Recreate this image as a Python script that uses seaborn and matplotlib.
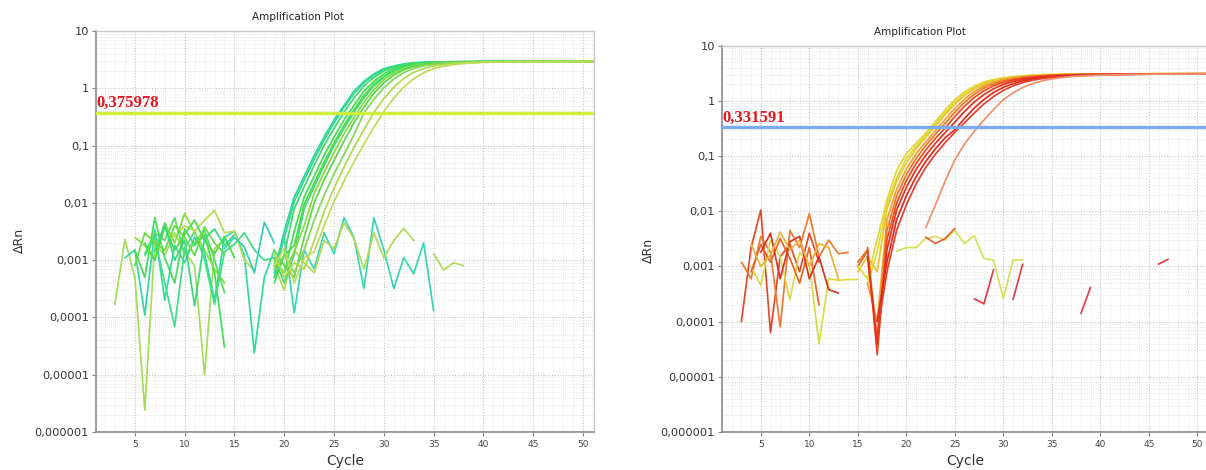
import numpy as np
import pandas as pd
import matplotlib
matplotlib.use("Agg")
import matplotlib.pyplot as plt
import seaborn as sns
from matplotlib.ticker import FixedLocator, FixedFormatter, LogLocator, MultipleLocator, NullFormatter
from matplotlib.transforms import blended_transform_factory

sns.set_theme(style="white")
plt.rcParams["font.family"] = ["DejaVu Sans"]

nan = np.nan

# ---------------- data ----------------
x_ticks = [5, 10, 15, 20, 25, 30, 35, 40, 45, 50]
y_ticks = [1e-6, 1e-5, 1e-4, 1e-3, 1e-2, 1e-1, 1, 10]
y_tick_labels = ["0,000001", "0,00001", "0,0001", "0,001", "0,01", "0,1", "1", "10"]

left_threshold = 0.375978
left_threshold_label = "0,375978"
right_threshold = 0.331591
right_threshold_label = "0,331591"

# left panel: amplification curves, cycles 19..51
left_amp_start = 19
left_amp = [
    [6e-4, 3.2e-3, 0.0126, 0.029, 0.067, 0.141, 0.28, 0.5, 0.89, 1.32, 1.78, 2.2, 2.45, 2.66, 2.78, 2.85,
     2.88, 2.9, 2.9, 2.91, 2.92, 2.92, 2.93, 2.93, 2.93, 2.94, 2.94, 2.94, 2.94, 2.95, 2.95, 2.95, 2.95],
    [8e-4, 2.4e-3, 0.0105, 0.025, 0.057, 0.125, 0.25, 0.46, 0.81, 1.25, 1.7, 2.12, 2.4, 2.62, 2.76, 2.83,
     2.87, 2.89, 2.9, 2.91, 2.92, 2.92, 2.93, 2.93, 2.93, 2.94, 2.94, 2.94, 2.95, 2.95, 2.95, 2.95, 2.95],
    [4e-4, 1.26e-3, 7.9e-3, 0.019, 0.0447, 0.1, 0.2, 0.38, 0.68, 1.1, 1.55, 2.0, 2.34, 2.57, 2.75, 2.82,
     2.86, 2.88, 2.9, 2.9, 2.91, 2.92, 2.92, 2.93, 2.93, 2.93, 2.94, 2.94, 2.94, 2.95, 2.95, 2.95, 2.95],
    [9e-4, 6e-4, 3.2e-3, 0.0126, 0.029, 0.067, 0.141, 0.28, 0.5, 0.89, 1.32, 1.78, 2.2, 2.45, 2.66, 2.78, 2.85,
     2.88, 2.9, 2.9, 2.91, 2.92, 2.92, 2.93, 2.93, 2.93, 2.94, 2.94, 2.94, 2.95, 2.95, 2.95, 2.95],
    [5e-4, 1.2e-3, 1.8e-3, 9.5e-3, 0.022, 0.051, 0.112, 0.225, 0.42, 0.75, 1.18, 1.62, 2.05, 2.37, 2.58, 2.74, 2.82,
     2.86, 2.88, 2.9, 2.9, 2.91, 2.92, 2.92, 2.93, 2.93, 2.93, 2.94, 2.94, 2.94, 2.95, 2.95, 2.95],
    [1.1e-3, 4e-4, 1.26e-3, 7.9e-3, 0.019, 0.0447, 0.1, 0.2, 0.38, 0.68, 1.1, 1.55, 2.0, 2.34, 2.57, 2.75, 2.82,
     2.86, 2.88, 2.9, 2.9, 2.91, 2.92, 2.92, 2.93, 2.93, 2.93, 2.94, 2.94, 2.94, 2.95, 2.95, 2.95],
    [1e-3, 6e-4, 1.4e-3, 4e-3, 0.0145, 0.034, 0.076, 0.16, 0.31, 0.57, 0.95, 1.4, 1.85, 2.2, 2.47, 2.64, 2.75, 2.81,
     2.85, 2.88, 2.9, 2.9, 2.91, 2.92, 2.92, 2.93, 2.93, 2.93, 2.94, 2.94, 2.94, 2.95, 2.95],
    [1.5e-3, 8e-4, 5e-4, 2.5e-3, 0.01, 0.025, 0.055, 0.12, 0.25, 0.47, 0.82, 1.25, 1.7, 2.1, 2.4, 2.6, 2.72, 2.8,
     2.85, 2.88, 2.9, 2.9, 2.91, 2.92, 2.92, 2.93, 2.93, 2.93, 2.94, 2.94, 2.94, 2.95, 2.95],
    [7e-4, 1.2e-3, 6e-4, 1.5e-3, 5e-3, 0.0135, 0.032, 0.07, 0.155, 0.37, 0.64, 1.02, 1.45, 1.88, 2.22, 2.46, 2.62, 2.72, 2.79,
     2.84, 2.87, 2.89, 2.9, 2.91, 2.92, 2.92, 2.93, 2.93, 2.93, 2.94, 2.94, 2.94, 2.94],
    [1.3e-3, 5e-4, 9e-4, 7e-4, 2.2e-3, 7e-3, 0.018, 0.042, 0.093, 0.19, 0.38, 0.66, 1.05, 1.48, 1.9, 2.22, 2.45, 2.6, 2.7, 2.77,
     2.82, 2.86, 2.88, 2.9, 2.91, 2.91, 2.92, 2.92, 2.93, 2.93, 2.93, 2.94, 2.94],
    [8e-4, 1.6e-3, 4e-4, 1.1e-3, 1.4e-3, 4e-3, 0.0105, 0.024, 0.052, 0.105, 0.21, 0.39, 0.67, 1.05, 1.47, 1.87, 2.2, 2.43, 2.59, 2.7, 2.77,
     2.82, 2.85, 2.87, 2.89, 2.9, 2.91, 2.91, 2.92, 2.92, 2.93, 2.93, 2.93],
]
left_amp_colors = ["#2bd6a6", "#34d98c", "#3cdc6a", "#42de50", "#4ddc40", "#3fd97a",
                   "#86dc3e", "#5ad848", "#7fd85a", "#aedb4c", "#c2da58"]

# left panel: baseline noise, cycles 3..19
left_noise_start = 3
left_noise = [
    [1.7e-4, 2.3e-3, 5e-4, 2.4e-6, 2.0e-3, 1.2e-3, 3.0e-3, 1.4e-3, 8e-4, 1.0e-5, 1.6e-3, 2.2e-3, nan, nan, nan, nan, nan],
    [nan, 1.1e-3, 1.5e-3, 1.1e-4, 3.5e-3, 2.0e-4, 1.8e-3, 9e-4, 2.5e-3, 1.3e-3, 2.0e-4, 2.5e-3, 3.2e-3, 1.2e-3, 2.4e-5, 5e-4, 1.5e-3],
    [nan, nan, 1.5e-3, 5e-4, 5.5e-3, 1.1e-3, 4e-4, 3.5e-3, 1.8e-3, 2.8e-3, 6e-4, 3e-5, nan, nan, nan, nan, nan],
    [nan, nan, nan, 1.2e-3, 2.5e-3, 4e-4, 7e-5, 1.6e-3, 3.2e-3, 1.0e-3, 1.7e-4, 1.4e-3, 1.9e-3, 3.0e-3, 1.5e-3, 1.0e-3, 1.1e-3],
    [nan, nan, 2.5e-3, 1.8e-3, 1.0e-3, 4.5e-3, 2.0e-3, 6.5e-3, 3.0e-3, 1.5e-3, 7e-4, 4e-4, nan, nan, nan, nan, nan],
    [nan, nan, nan, nan, 1.8e-3, 3.5e-3, 2.6e-3, 4.0e-3, 3.2e-3, 5.0e-3, 7.4e-3, 3.0e-3, 3.2e-3, 1.0e-3, 6.5e-4, nan, nan],
    [nan, nan, nan, nan, nan, nan, nan, nan, nan, nan, nan, 1.6e-3, 2.5e-3, 1.7e-3, 6e-4, 4.6e-3, 2e-3],
    [nan, nan, nan, 1.3e-3, 3.0e-3, 2.2e-3, 5.5e-3, 1.2e-3, 2.0e-3, 3.3e-3, 1.0e-3, 2.7e-4, nan, nan, nan, nan, nan],
    [nan, nan, nan, 2.0e-3, 1.0e-3, 3.8e-3, 1.5e-3, 2.8e-3, 5.0e-3, 2.2e-3, 1.3e-3, 2.6e-3, 1.1e-3, nan, nan, nan, nan],
    [nan, nan, 8e-4, 3.0e-3, 2.0e-3, 1.5e-3, 4.0e-3, 2.5e-3, 1.2e-3, 3.8e-3, 2.0e-3, 1.3e-3, nan, nan, nan, nan, nan],
    [nan, nan, nan, nan, 1.4e-3, 4.2e-3, 1.0e-3, 2.2e-3, 1.6e-4, 2.4e-3, 3.5e-3, 1.8e-3, 2.8e-3, nan, nan, nan, nan],
]
left_noise_colors = ["#a4dc5c", "#30d8a8", "#44dd55", "#3ce08a", "#7ee040", "#b5dd55",
                     "#2fd0b8", "#55dd66", "#48de48", "#66dc3c", "#38d87c"]

# left panel: non-amplifying wells
left_ntc_start = [19, 19]
left_ntc = [
    [5e-4, 2.5e-3, 1.2e-4, 1.5e-3, 7e-4, 3e-3, 1.3e-3, 5.5e-3, 2.5e-3, 3.2e-4, 5.5e-3, 1.5e-3, 3.2e-4, 1.1e-3, 5.8e-4, 2e-3, 1.3e-4],
    [8e-4, 3e-4, 1.5e-3, 9e-4, 6e-4, 2.2e-3, 1.6e-3, 4.5e-3, 2.4e-3, 7e-4, 3e-3, 1.1e-3, 2.2e-3, 3.6e-3, 2.2e-3, nan, 1.3e-3, 6.7e-4, 9e-4, 8e-4],
]
left_ntc_colors = ["#36d6b4", "#b4d85a"]

# right panel: amplification curves, cycles 15..51
right_amp_start = 15
right_amp = [
    [1e-3, 6e-4, 3e-3, 0.016, 0.055, 0.11, 0.17, 0.26, 0.42, 0.68, 1.05, 1.45, 1.85, 2.2, 2.45, 2.62, 2.75, 2.85, 2.92, 2.97, 3.0,
     3.02, 3.04, 3.05, 3.06, 3.07, 3.08, 3.08, 3.09, 3.09, 3.1, 3.1, 3.1, 3.1, 3.1, 3.1, 3.1],
    [nan, 5e-4, 1.8e-3, 0.013, 0.04, 0.09, 0.15, 0.24, 0.38, 0.61, 0.96, 1.35, 1.75, 2.1, 2.38, 2.57, 2.71, 2.81, 2.89, 2.95, 2.99,
     3.01, 3.03, 3.05, 3.06, 3.07, 3.08, 3.08, 3.09, 3.09, 3.1, 3.1, 3.1, 3.1, 3.1, 3.1, 3.1],
    [8e-4, 1.5e-3, 8e-4, 0.011, 0.035, 0.075, 0.135, 0.22, 0.35, 0.56, 0.88, 1.25, 1.65, 2.0, 2.3, 2.52, 2.67, 2.78, 2.87, 2.93, 2.97,
     3.0, 3.02, 3.04, 3.05, 3.06, 3.07, 3.08, 3.08, 3.09, 3.09, 3.1, 3.1, 3.1, 3.1, 3.1, 3.1],
    [nan, 5e-4, 1e-4, 7e-3, 0.025, 0.058, 0.11, 0.18, 0.29, 0.46, 0.73, 1.08, 1.48, 1.85, 2.17, 2.42, 2.6, 2.72, 2.82, 2.89, 2.94,
     2.98, 3.01, 3.03, 3.04, 3.06, 3.07, 3.07, 3.08, 3.09, 3.09, 3.1, 3.1, 3.1, 3.1, 3.1, 3.1],
    [1.2e-3, 2e-3, 5e-5, 4.5e-3, 0.019, 0.046, 0.09, 0.155, 0.25, 0.39, 0.62, 0.94, 1.32, 1.7, 2.03, 2.3, 2.5, 2.65, 2.76, 2.84, 2.9,
     2.95, 2.98, 3.01, 3.03, 3.04, 3.06, 3.07, 3.07, 3.08, 3.09, 3.09, 3.1, 3.1, 3.1, 3.1, 3.1],
    [nan, 2.2e-3, 2.5e-5, 3e-3, 0.014, 0.036, 0.073, 0.128, 0.21, 0.32, 0.52, 0.8, 1.15, 1.52, 1.87, 2.16, 2.4, 2.57, 2.7, 2.8, 2.87,
     2.92, 2.96, 2.99, 3.01, 3.03, 3.05, 3.06, 3.07, 3.08, 3.08, 3.09, 3.09, 3.1, 3.1, 3.1, 3.1],
    [nan, 1.5e-3, 4e-5, 2e-3, 0.0105, 0.027, 0.057, 0.103, 0.17, 0.265, 0.41, 0.64, 0.95, 1.3, 1.66, 1.98, 2.25, 2.45, 2.6, 2.72, 2.8,
     2.86, 2.91, 2.95, 2.98, 3.0, 3.02, 3.04, 3.05, 3.06, 3.07, 3.08, 3.08, 3.09, 3.09, 3.1, 3.1],
    [nan, nan, 1e-4, 1.2e-3, 7e-3, 0.019, 0.042, 0.08, 0.135, 0.215, 0.3, 0.48, 0.74, 1.06, 1.42, 1.76, 2.05, 2.3, 2.48, 2.62, 2.72,
     2.8, 2.86, 2.91, 2.95, 2.98, 3.0, 3.02, 3.04, 3.05, 3.06, 3.07, 3.08, 3.08, 3.09, 3.09, 3.09],
    [nan, nan, 6e-5, 8e-4, 4.5e-3, 0.013, 0.031, 0.062, 0.108, 0.175, 0.27, 0.4, 0.6, 0.88, 1.2, 1.55, 1.87, 2.15, 2.37, 2.53, 2.65,
     2.74, 2.81, 2.87, 2.91, 2.95, 2.98, 3.0, 3.02, 3.04, 3.05, 3.06, 3.07, 3.08, 3.08, 3.09, 3.09],
    [nan, nan, nan, nan, nan, nan, nan, 5e-3, 0.013, 0.035, 0.085, 0.165, 0.28, 0.45, 0.7, 1.05, 1.4, 1.75, 2.05, 2.3, 2.5,
     2.64, 2.75, 2.83, 2.88, 2.92, 2.96, 2.99, 3.01, 3.02, 3.04, 3.05, 3.06, 3.06, 3.07, 3.07, 3.07],
]
right_amp_colors = ["#e6d62e", "#dcdc3c", "#eac432", "#f0a030", "#f07424",
                    "#ec4a1e", "#e4301a", "#dc2a1c", "#e6402c", "#f0906c"]

# right panel: baseline noise, cycles 3..16
right_noise_start = 3
right_noise = [
    [1e-4, 2.2e-3, 1.05e-2, 6.3e-5, 1.5e-3, 2.5e-3, 8e-4, 4e-3, 1.2e-3, nan, nan, nan, nan, nan],
    [1.2e-3, 6e-4, 3.5e-3, 1.8e-3, 8e-5, 4.5e-3, 2.2e-3, 9e-3, 1.5e-3, 3e-3, 1.7e-3, 1.8e-3, nan, nan],
    [nan, 1.0e-3, 4.5e-4, 3e-3, 1.5e-3, 2.5e-4, 1.8e-3, 1.1e-3, 4e-5, 6e-4, 5.6e-4, 5.8e-4, 5.8e-4, nan],
    [nan, 8e-4, 2.5e-3, 1.2e-3, 3.2e-3, 1.4e-3, 5e-4, 2.2e-3, 2e-4, nan, nan, nan, 1.0e-3, 1.9e-3],
    [nan, nan, 1.8e-3, 4e-3, 6e-4, 2.8e-3, 3.5e-3, 6e-4, 1.5e-3, 3.8e-4, 3.3e-4, nan, nan, nan],
    [nan, 2.5e-3, 1.0e-3, 1.6e-3, 4.2e-3, 2.0e-3, 3e-3, 1.0e-3, 2.6e-3, 2.2e-3, 6e-4, nan, nan, nan],
]
right_noise_colors = ["#e04a2a", "#f07a30", "#dada48", "#ea6424", "#d83422", "#e8b23e"]

# right panel: non-amplifying wells / fragments
right_ntc_start = [19, 22, 27, 31, 38, 46]
right_ntc = [
    [1.9e-3, 2.2e-3, 2.2e-3, 3.2e-3, 3.5e-3, 3.0e-3, 4.5e-3, 2.6e-3, 3.6e-3, 1.4e-3, 1.3e-3, 2.6e-4, 1.3e-3, 1.3e-3],
    [3.4e-3, 2.6e-3, 3.2e-3, 4.9e-3],
    [2.6e-4, 2.1e-4, 8.8e-4],
    [2.5e-4, 1.1e-3],
    [1.4e-4, 4.2e-4],
    [1.1e-3, 1.35e-3],
]
right_ntc_colors = ["#d6e05a", "#d8683e", "#e0404a", "#e0404a", "#e0404a", "#e0404a"]


# ---------------- build long tables ----------------
def build(groups):
    rows, palette = [], {}
    seg = 0
    for prefix, starts, arrays, colors in groups:
        for i, arr in enumerate(arrays):
            name = f"{prefix}{i}"
            palette[name] = colors[i]
            start = starts[i] if isinstance(starts, list) else starts
            gap = True
            for j, v in enumerate(arr):
                if np.isnan(v):
                    gap = True
                    continue
                if gap:
                    seg += 1
                    gap = False
                rows.append((start + j, v, name, seg))
    return pd.DataFrame(rows, columns=["Cycle", "dRn", "well", "seg"]), palette


left_df, left_pal = build([
    ("ln", left_noise_start, left_noise, left_noise_colors),
    ("lt", left_ntc_start, left_ntc, left_ntc_colors),
    ("la", left_amp_start, left_amp, left_amp_colors),
])
right_df, right_pal = build([
    ("rn", right_noise_start, right_noise, right_noise_colors),
    ("rt", right_ntc_start, right_ntc, right_ntc_colors),
    ("ra", right_amp_start, right_amp, right_amp_colors),
])

W, H = 1206, 470
fig = plt.figure(figsize=(W / 100, H / 100), dpi=100)
fig.patch.set_facecolor("white")

ax_l = fig.add_axes([96 / W, 38 / H, 498 / W, 401 / H])
ax_r = fig.add_axes([722 / W, 38 / H, 485 / W, 386.3 / H])


def style_axes(ax, df, pal, xlim, thr, thr_label, thr_color):
    sns.lineplot(data=df, x="Cycle", y="dRn", hue="well", units="seg", estimator=None,
                 palette=pal, legend=False, linewidth=1.25, ax=ax, sort=False)
    ax.set_yscale("log")
    ax.set_ylim(1e-6, 10)
    ax.set_xlim(*xlim)
    ax.axhline(thr, color=thr_color, lw=2.4, zorder=5)
    ax.yaxis.set_major_locator(FixedLocator(y_ticks))
    ax.yaxis.set_major_formatter(FixedFormatter(y_tick_labels))
    ax.yaxis.set_minor_locator(LogLocator(base=10, subs=np.arange(2, 10), numticks=20))
    ax.yaxis.set_minor_formatter(NullFormatter())
    ax.xaxis.set_major_locator(FixedLocator(x_ticks))
    ax.xaxis.set_minor_locator(MultipleLocator(1))
    ax.grid(which="major", ls=(0, (1, 1.5)), color="#c4c4c4", lw=0.8)
    ax.grid(which="minor", ls=(0, (1, 1.5)), color="#e2e2e2", lw=0.6)
    ax.set_axisbelow(True)
    ax.tick_params(which="major", bottom=True, left=True, length=3, width=0.8, color="#888888", pad=2)
    ax.tick_params(axis="y", which="major", labelsize=8.2, labelcolor="#333333")
    ax.tick_params(axis="x", which="major", labelsize=6.5, labelcolor="#444444", pad=3)
    ax.tick_params(which="minor", length=0)
    for s in ["left", "bottom"]:
        ax.spines[s].set_color("#8c8c8c")
        ax.spines[s].set_linewidth(1.2)
    for s in ["top", "right"]:
        ax.spines[s].set_color("#c8c8c8")
        ax.spines[s].set_linewidth(1.0)
    ax.set_xlabel("")
    ax.set_ylabel("")
    trans = blended_transform_factory(ax.transAxes, ax.transData)
    ax.annotate(thr_label, xy=(0, thr), xycoords=trans, xytext=(0, 1), textcoords="offset points",
                ha="left", va="bottom", fontsize=12, fontweight="bold", color="#e8141c",
                family=["Liberation Serif", "DejaVu Serif"], zorder=6)


style_axes(ax_l, left_df, left_pal, (1.1, 51.1), left_threshold, left_threshold_label, "#cfee3e")
style_axes(ax_r, right_df, right_pal, (1.0, 51.0), right_threshold, right_threshold_label, "#7aaaf2")
ax_r.spines["right"].set_visible(False)

# titles and axis labels
fig.text(298 / W, 1 - 17 / H, "Amplification Plot", ha="center", va="center", fontsize=7.5, color="#222222")
fig.text(920 / W, 1 - 32 / H, "Amplification Plot", ha="center", va="center", fontsize=7.5, color="#222222")
fig.text(19 / W, 1 - 240 / H, "ΔRn", ha="center", va="center", rotation=90, fontsize=9, color="#333333")
fig.text(648 / W, 1 - 250 / H, "ΔRn", ha="center", va="center", rotation=90, fontsize=9, color="#333333")
fig.text(345 / W, 1 - 461 / H, "Cycle", ha="center", va="center", fontsize=10, color="#333333")
fig.text(965 / W, 1 - 461 / H, "Cycle", ha="center", va="center", fontsize=10, color="#333333")

fig.savefig("out.png", dpi=100, facecolor="white")
